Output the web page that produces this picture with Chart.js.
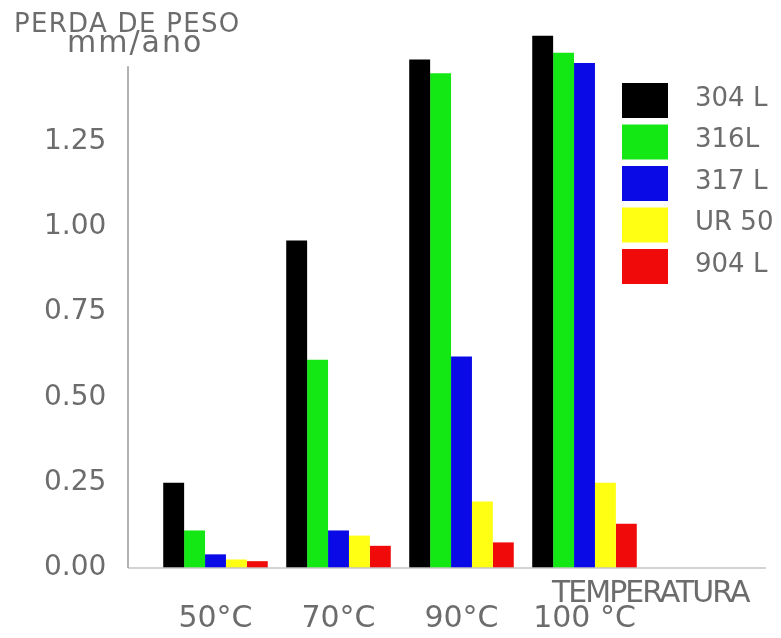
<!DOCTYPE html>
<html lang="pt">
<head>
  <meta charset="UTF-8" />
  <title>Perda de peso x temperatura</title>
  <script src="https://cdn.jsdelivr.net/npm/chart.js"></script>
  <style>
    html, body {
      margin: 0;
      padding: 0;
      background: #ffffff;
    }
    .chart-box {
      position: relative;
      width: 781px;
      height: 638px;
    }
  </style>
</head>
<body>
  <div class="chart-box">
    <canvas id="pesoChart"></canvas>
  </div>

  <script>
    // data
    const temperaturas = ['50°C', '70°C', '90°C', '100 °C'];
    const aco304L = [0.25, 0.96, 1.49, 1.56];
    const aco316L = [0.11, 0.61, 1.45, 1.51];
    const aco317L = [0.04, 0.11, 0.62, 1.48];
    const acoUR50 = [0.025, 0.095, 0.195, 0.25];
    const aco904L = [0.02, 0.065, 0.075, 0.13];
    const yTicks = [0, 0.25, 0.5, 0.75, 1.0, 1.25];

    const grey = '#6c6c6c';
    const fontFam = '"DejaVu Sans", Arial, sans-serif';

    // axis lines, titles and legend, drawn over the chart
    const decoPlugin = {
      id: 'deco',
      afterDraw(chart) {
        const c = chart.ctx;
        const y = chart.scales.y;
        const y0 = y.getPixelForValue(0);
        c.save();
        c.lineWidth = 1.5;
        c.strokeStyle = '#c4c4c4';
        c.beginPath();
        c.moveTo(128, y0);
        c.lineTo(766, y0);
        c.stroke();
        c.strokeStyle = '#9a9a9a';
        c.beginPath();
        c.moveTo(128, y.getPixelForValue(1.47));
        c.lineTo(128, y0);
        c.stroke();

        c.fillStyle = grey;
        c.textBaseline = 'middle';
        c.textAlign = 'left';
        c.font = '26px ' + fontFam;
        c.letterSpacing = '1.3px';
        c.fillText('PERDA DE PESO', 14, 25);
        c.font = '30px ' + fontFam;
        c.letterSpacing = '2px';
        c.fillText('mm/ano', 67, 44);
        c.letterSpacing = '-2px';
        c.fillText('TEMPERATURA', 552, 594);
        c.letterSpacing = '0px';

        // legend
        c.font = '26px ' + fontFam;
        chart.data.datasets.forEach((ds, i) => {
          const top = 83 + i * 41.5;
          c.fillStyle = ds.backgroundColor;
          c.fillRect(622, top, 46, 35);
          c.fillStyle = grey;
          c.fillText(ds.label, 695, top + 16);
        });
        c.restore();
      }
    };

    const ctx = document.getElementById('pesoChart').getContext('2d');
    new Chart(ctx, {
      type: 'bar',
      data: {
        labels: temperaturas,
        datasets: [
          { label: '304 L', data: aco304L, backgroundColor: '#000000' },
          { label: '316L', data: aco316L, backgroundColor: '#14e814' },
          { label: '317 L', data: aco317L, backgroundColor: '#0a0ae6' },
          { label: 'UR 50', data: acoUR50, backgroundColor: '#ffff14' },
          { label: '904 L', data: aco904L, backgroundColor: '#f00a0a' }
        ]
      },
      options: {
        responsive: true,
        maintainAspectRatio: false,
        animation: false,
        datasets: {
          bar: {
            categoryPercentage: 0.85,
            barPercentage: 1.0
          }
        },
        layout: {
          padding: { top: 22, right: 135, bottom: 0, left: 44 }
        },
        plugins: {
          legend: { display: false },
          tooltip: { enabled: false }
        },
        scales: {
          x: {
            grid: { display: false, drawTicks: false },
            border: { display: false },
            afterFit: (axis) => { axis.height = 70; },
            ticks: {
              color: grey,
              padding: 33,
              font: { family: fontFam, size: 30 }
            }
          },
          y: {
            min: 0,
            max: 1.6,
            grid: { display: false, drawTicks: false },
            border: { display: false },
            afterFit: (axis) => { axis.width = 110; },
            afterBuildTicks: (axis) => {
              axis.ticks = yTicks.map(v => ({ value: v }));
            },
            ticks: {
              color: grey,
              padding: 4,
              crossAlign: 'far',
              font: { family: fontFam, size: 28 },
              callback: (v) => Number(v).toFixed(2)
            }
          }
        }
      },
      plugins: [decoPlugin]
    });
  </script>
</body>
</html>
